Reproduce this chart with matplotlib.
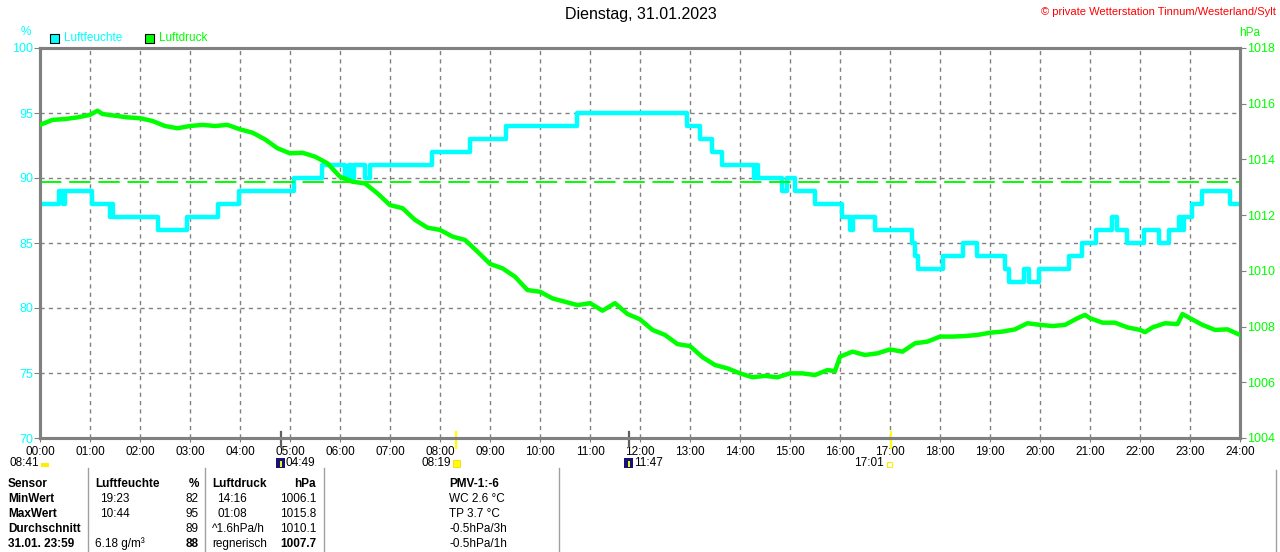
import matplotlib
matplotlib.use("Agg")
import matplotlib.pyplot as plt
from matplotlib.patches import Rectangle

plt.rcParams['font.family'] = ['Liberation Sans', 'DejaVu Sans']

# humidity (%), step line: change times (h) and values
hum_t = [0, 0.37, 0.45, 0.5, 1.03, 1.4, 1.42, 1.45, 2.35, 2.93, 3.55, 3.97,
         5.07, 5.63, 6.1, 6.17, 6.22, 6.27, 6.5, 6.6, 7.83, 8.6, 9.32, 10.73,
         12.93, 13.2, 13.43, 13.63, 14.27, 14.3, 14.35, 14.83, 14.93, 15.1,
         15.5, 16.03, 16.2, 16.25, 16.69, 17.43, 17.5, 17.55, 18.05, 18.45,
         18.73, 19.3, 19.37, 19.67, 19.78, 19.97, 20.57, 20.83, 21.12, 21.43,
         21.53, 21.73, 22.07, 22.37, 22.57, 22.78, 22.82, 22.87, 23.03, 23.23,
         23.8, 24]
hum_v = [88, 89, 88, 89, 88, 87, 88, 87, 86, 87, 88, 89,
         90, 91, 90, 91, 90, 91, 90, 91, 92, 93, 94, 95,
         94, 93, 92, 91, 90, 91, 90, 89, 90, 89,
         88, 87, 86, 87, 86, 85, 84, 83, 84, 85,
         84, 83, 82, 83, 82, 83, 84, 85, 86, 87,
         86, 85, 86, 85, 86, 87, 86, 87, 88, 89,
         88, 88]

# air pressure (hPa)
pres_t = [0.0, 0.25, 0.5, 0.75, 1.0, 1.15, 1.25, 1.5, 1.75, 2.0, 2.25, 2.5,
          2.75, 3.0, 3.25, 3.5, 3.75, 4.0, 4.25, 4.5, 4.75, 5.0, 5.25, 5.5,
          5.75, 6.0, 6.25, 6.5, 6.75, 7.0, 7.25, 7.5, 7.75, 8.0, 8.25, 8.5,
          8.75, 9.0, 9.25, 9.5, 9.75, 10.0, 10.25, 10.5, 10.75, 11.0, 11.25,
          11.5, 11.75, 12.0, 12.25, 12.5, 12.75, 13.0, 13.25, 13.5, 13.75,
          14.0, 14.25, 14.5, 14.75, 15.0, 15.25, 15.5, 15.75, 15.9, 16.0,
          16.25, 16.5, 16.75, 17.0, 17.25, 17.5, 17.75, 18.0, 18.25, 18.5,
          18.75, 19.0, 19.25, 19.5, 19.75, 20.0, 20.25, 20.5, 20.75, 20.9,
          21.0, 21.25, 21.5, 21.75, 22.0, 22.1, 22.25, 22.5, 22.75, 22.85,
          23.0, 23.25, 23.5, 23.75, 24.0]
pres_v = [1015.24, 1015.42, 1015.45, 1015.51, 1015.60, 1015.75, 1015.63,
          1015.57, 1015.51, 1015.48, 1015.38, 1015.20, 1015.12, 1015.20,
          1015.24, 1015.20, 1015.24, 1015.08, 1014.96, 1014.72, 1014.40,
          1014.22, 1014.24, 1014.10, 1013.86, 1013.38, 1013.20, 1013.14,
          1012.78, 1012.36, 1012.25, 1011.83, 1011.55, 1011.47, 1011.23,
          1011.11, 1010.69, 1010.25, 1010.09, 1009.79, 1009.31, 1009.25,
          1009.01, 1008.89, 1008.77, 1008.84, 1008.57, 1008.84, 1008.45,
          1008.26, 1007.88, 1007.70, 1007.37, 1007.30, 1006.90, 1006.62,
          1006.50, 1006.32, 1006.18, 1006.23, 1006.18, 1006.32, 1006.32,
          1006.26, 1006.44, 1006.40, 1006.92, 1007.10, 1006.98, 1007.04,
          1007.18, 1007.10, 1007.40, 1007.46, 1007.64, 1007.64, 1007.66,
          1007.70, 1007.78, 1007.82, 1007.90, 1008.12, 1008.06, 1008.02,
          1008.06, 1008.30, 1008.42, 1008.30, 1008.14, 1008.14, 1007.97,
          1007.88, 1007.80, 1007.97, 1008.12, 1008.09, 1008.45, 1008.30,
          1008.06, 1007.88, 1007.90, 1007.70]
std_pressure = 1013.2

hours = list(range(25))
hour_labels = ['%02d:00' % h for h in hours]
hum_ticks = [70, 75, 80, 85, 90, 95, 100]
pres_ticks = [1004, 1006, 1008, 1010, 1012, 1014, 1016, 1018]

# sun / moon events (h)
moon_events = [4 + 49 / 60, 11 + 47 / 60]
sun_events = [8 + 19 / 60, 17 + 1 / 60]

table_rows = [
    ['Sensor', 'Luftfeuchte', '%', 'Luftdruck', 'hPa', 'PMV-1:-6'],
    ['MinWert', '19:23', '82', '14:16', '1006.1', 'WC 2.6 °C'],
    ['MaxWert', '10:44', '95', '01:08', '1015.8', 'TP 3.7 °C'],
    ['Durchschnitt', '', '89', '^1.6hPa/h', '1010.1', '-0.5hPa/3h'],
    ['31.01. 23:59', '6.18 g/m³', '88', 'regnerisch', '1007.7', '-0.5hPa/1h'],
]

W, H = 1280, 552
CYAN = '#00FFFF'
GREEN = '#00FF00'
GRAY = '#808080'


def fx(x):
    return x / W


def fy(y):
    return 1 - y / H


fig = plt.figure(figsize=(12.8, 5.52), dpi=100)
ax = fig.add_axes([fx(40), fy(438), 1200 / W, 390 / H])
ax2 = ax.twinx()

ax.step(hum_t, hum_v, where='post', color=CYAN, lw=3.2, zorder=3)
ax2.plot(pres_t, pres_v, color=GREEN, lw=3.2, zorder=3)
ax2.axhline(std_pressure, color=GREEN, lw=1.4, dashes=(11, 4), zorder=2)

ax.set_xlim(0, 24)
ax.set_ylim(70, 100)
ax2.set_ylim(1004, 1018)
ax.set_xticks(hours)
ax.set_xticklabels(hour_labels, fontsize=8.5)
ax.set_yticks(hum_ticks)
ax.set_yticklabels([str(v) for v in hum_ticks], fontsize=9, color=CYAN)
ax2.set_yticks(pres_ticks)
ax2.set_yticklabels([str(v) for v in pres_ticks], fontsize=9, color=GREEN)
ax.grid(True, color=GRAY, lw=1, dashes=(3, 3))
ax.set_axisbelow(True)
ax.tick_params(axis='x', length=3, color=GRAY, pad=3)
ax.tick_params(axis='y', length=4, color=GRAY, pad=1)
ax2.tick_params(axis='y', length=4, color=GRAY, pad=1)
for a in (ax, ax2):
    for s in a.spines.values():
        s.set_color(GRAY)
        s.set_linewidth(2.2)

# sun/moon markers on the axis
for t in moon_events:
    ax.axvline(t, ymin=-0.02, ymax=0.015, color='#606060', lw=1.6, clip_on=False)
for t in sun_events:
    ax.axvline(t, ymin=-0.025, ymax=0.015, color='#FFFF00', lw=1.6, clip_on=False)

# title & header texts
fig.text(fx(641), fy(15), 'Dienstag, 31.01.2023', ha='center', va='center', fontsize=11.5)
fig.text(fx(1276), fy(12), '© private Wetterstation Tinnum/Westerland/Sylt',
         ha='right', va='center', fontsize=8, color='red')
fig.text(fx(26), fy(32), '%', ha='center', va='center', fontsize=8.5, color=CYAN)
fig.text(fx(1250), fy(33), 'hPa', ha='center', va='center', fontsize=8.5, color=GREEN)
fig.patches.append(Rectangle((fx(50), fy(43)), 9 / W, 9 / H, transform=fig.transFigure,
                             facecolor=CYAN, edgecolor='black', lw=0.8))
fig.text(fx(64), fy(38), 'Luftfeuchte', ha='left', va='center', fontsize=8.5, color=CYAN)
fig.patches.append(Rectangle((fx(145), fy(43)), 9 / W, 9 / H, transform=fig.transFigure,
                             facecolor=GREEN, edgecolor='black', lw=0.8))
fig.text(fx(159), fy(38), 'Luftdruck', ha='left', va='center', fontsize=8.5, color=GREEN)

# sunrise / moon row
fig.text(fx(10), fy(463), '08:41', ha='left', va='center', fontsize=8.5)
fig.patches.append(Rectangle((fx(41), fy(467)), 8 / W, 4 / H, transform=fig.transFigure,
                             facecolor='#FFEE00', edgecolor='none'))
for x0, label in [(276, '04:49'), (624, '11:47')]:
    fig.patches.append(Rectangle((fx(x0), fy(468)), 9 / W, 10 / H, transform=fig.transFigure,
                                 facecolor='#141478', edgecolor='none'))
    fig.patches.append(Rectangle((fx(x0 + 4), fy(467)), 2 / W, 6 / H, transform=fig.transFigure,
                                 facecolor='#FFEE00', edgecolor='none'))
    fig.text(fx(x0 + 10), fy(463), label, ha='left', va='center', fontsize=8.5)
fig.text(fx(451), fy(463), '08:19', ha='right', va='center', fontsize=8.5)
fig.patches.append(Rectangle((fx(453), fy(467)), 7 / W, 7 / H, transform=fig.transFigure,
                             facecolor='#FFFF00', edgecolor='#FFD700', lw=0.6))
fig.text(fx(884), fy(463), '17:01', ha='right', va='center', fontsize=8.5)
fig.patches.append(Rectangle((fx(887), fy(467)), 5 / W, 5 / H, transform=fig.transFigure,
                             facecolor='white', edgecolor='#FFEE00', lw=0.8))

# table separators
for xs in (88, 205, 324, 559):
    fig.add_artist(plt.Line2D([fx(xs), fx(xs)], [fy(468), fy(552)], color='#A0A0A0', lw=1))
fig.add_artist(plt.Line2D([fx(1276), fx(1276)], [fy(470), fy(552)], color='#A0A0A0', lw=1))

# table texts
col_x = [8, 95, 199, 212, 316, 449]
col_ha = ['left', 'left', 'right', 'left', 'right', 'left']
for r, row in enumerate(table_rows):
    y = 484 + 15 * r
    for c, txt in enumerate(row):
        bold = r == 0 or c == 0 or (r == 4 and c in (2, 4))
        x = col_x[c]
        if c in (1, 3) and r in (1, 2):
            x += 5
        fig.text(fx(x), fy(y), txt, ha=col_ha[c], va='center', fontsize=8.5,
                 fontweight='bold' if bold else 'normal')

fig.savefig('out.png', dpi=100)
